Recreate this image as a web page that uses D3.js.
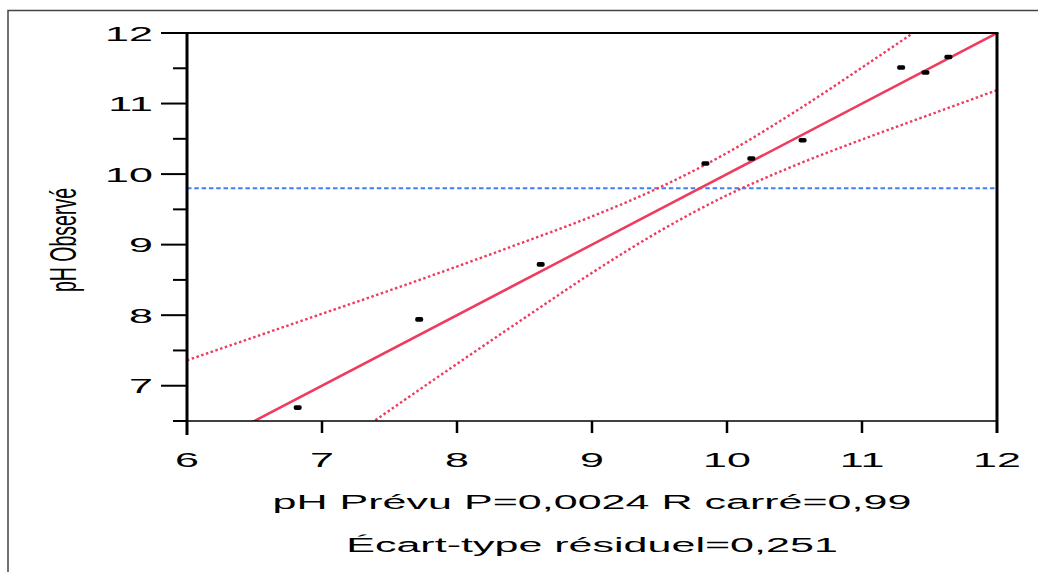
<!DOCTYPE html>
<html lang="fr">
<head>
<meta charset="utf-8">
<title>pH Observé vs pH Prévu</title>
<script src="https://cdn.jsdelivr.net/npm/d3@7"></script>
<style>
  body { margin: 0; background: #fff; }
  text { font-family: "Liberation Sans", Arial, sans-serif; fill: #000; }
</style>
</head>
<body>
<script>
// values
var predicted = [6.82, 7.72, 8.62, 9.84, 10.18, 10.56, 11.29, 11.47, 11.64];
var observed  = [6.69, 7.94, 8.72, 10.15, 10.22, 10.48, 11.51, 11.44, 11.66];
var fitX = [6, 12];
var fitY = [6, 12];
var meanObserved = 9.8;
var bandX     = [6, 6.5, 7, 7.5, 8, 8.5, 9, 9.5, 10, 10.5, 11, 11.5, 12];
var upperBand = [7.36, 7.69, 8.02, 8.35, 8.69, 9.04, 9.40, 9.81, 10.30, 10.88, 11.51, 12.16, 12.82];
var lowerBand = [4.64, 5.31, 5.98, 6.65, 7.31, 7.96, 8.60, 9.19, 9.70, 10.12, 10.49, 10.84, 11.19];
var xTicks = [6, 7, 8, 9, 10, 11, 12];
var yTicks = [7, 8, 9, 10, 11, 12];
var yMinor = [6.5, 7.5, 8.5, 9.5, 10.5, 11.5];
var xTitle1 = "pH Prévu P=0,0024 R carré=0,99";
var xTitle2 = "Écart-type résiduel=0,251";
var yTitle = "pH Observé";

var W = 1038, H = 572;
var pLeft = 187, pRight = 997, pTop = 33, pBottom = 421;
var stretch = 2.05;   // text in the picture is drawn wide
var red = "#ee3b5e", blue = "#3f80f2";

var svg = d3.select("body").append("svg")
  .attr("width", W).attr("height", H);

// outer frame
svg.append("path")
  .attr("d", "M8," + H + "V10.5H" + W)
  .attr("fill", "none").attr("stroke", "#444").attr("stroke-width", 1.5);

var x = d3.scaleLinear().domain([6, 12]).range([pLeft, pRight]);
var y = d3.scaleLinear().domain([6.5, 12]).range([pBottom, pTop]);

svg.append("clipPath").attr("id", "plot")
  .append("rect").attr("x", pLeft).attr("y", pTop)
  .attr("width", pRight - pLeft).attr("height", pBottom - pTop);

var g = svg.append("g").attr("clip-path", "url(#plot)");

// mean line
g.append("line")
  .attr("x1", x(6)).attr("x2", x(12))
  .attr("y1", y(meanObserved)).attr("y2", y(meanObserved))
  .attr("stroke", blue).attr("stroke-width", 2)
  .attr("stroke-dasharray", "4.5,2.8");

// confidence curves
var curve = d3.line().curve(d3.curveMonotoneX)
  .x(function(d){ return x(d[0]); })
  .y(function(d){ return y(d[1]); });
[upperBand, lowerBand].forEach(function(b){
  g.append("path")
    .attr("d", curve(d3.zip(bandX, b)))
    .attr("fill", "none").attr("stroke", red)
    .attr("stroke-width", 2.4).attr("stroke-dasharray", "2.5,2.5");
});

// fit line
g.append("path")
  .attr("d", curve(d3.zip(fitX, fitY)))
  .attr("fill", "none").attr("stroke", red).attr("stroke-width", 2.5);

// points
g.selectAll("rect.pt")
  .data(d3.zip(predicted, observed))
  .enter().append("rect").attr("class", "pt")
  .attr("x", function(d){ return x(d[0]) - 4; })
  .attr("y", function(d){ return y(d[1]) - 2.3; })
  .attr("width", 8).attr("height", 4.6)
  .attr("rx", 1.8).attr("ry", 1.8)
  .attr("fill", "#000");

// frame of the plot
svg.append("line").attr("x1", pLeft).attr("x2", pRight)
  .attr("y1", pBottom).attr("y2", pBottom)
  .attr("stroke", "#000").attr("stroke-width", 1.5);
svg.append("line").attr("x1", pLeft).attr("x2", pRight + 1.5)
  .attr("y1", pTop).attr("y2", pTop)
  .attr("stroke", "#000").attr("stroke-width", 2);
svg.append("line").attr("x1", pLeft).attr("x2", pLeft)
  .attr("y1", pTop).attr("y2", pBottom + 14)
  .attr("stroke", "#000").attr("stroke-width", 3);
svg.append("line").attr("x1", pRight).attr("x2", pRight)
  .attr("y1", pTop).attr("y2", pBottom + 12)
  .attr("stroke", "#000").attr("stroke-width", 3);

// x ticks
svg.selectAll(".xt").data(xTicks.slice(1, -1)).enter().append("line")
  .attr("x1", function(d){ return x(d); }).attr("x2", function(d){ return x(d); })
  .attr("y1", pBottom).attr("y2", pBottom + 12)
  .attr("stroke", "#000").attr("stroke-width", 2.5);
svg.selectAll(".xl").data(xTicks).enter().append("text")
  .attr("text-anchor", "middle").attr("font-size", 21)
  .attr("transform", function(d){ return "translate(" + x(d) + ",467) scale(" + stretch + ",1)"; })
  .text(function(d){ return d; });

// y ticks
svg.selectAll(".yt").data(yTicks).enter().append("line")
  .attr("x1", pLeft - 26).attr("x2", pLeft)
  .attr("y1", function(d){ return y(d); }).attr("y2", function(d){ return y(d); })
  .attr("stroke", "#000").attr("stroke-width", 2);
svg.selectAll(".ym").data(yMinor).enter().append("line")
  .attr("x1", pLeft - 14).attr("x2", pLeft)
  .attr("y1", function(d){ return y(d); }).attr("y2", function(d){ return y(d); })
  .attr("stroke", "#000").attr("stroke-width", 2);
svg.selectAll(".yl").data(yTicks).enter().append("text")
  .attr("text-anchor", "end").attr("font-size", 21)
  .attr("transform", function(d){ return "translate(153," + (y(d) + 7.5) + ") scale(" + stretch + ",1)"; })
  .text(function(d){ return d; });

// titles
svg.append("text").attr("text-anchor", "middle").attr("font-size", 21)
  .attr("transform", "translate(" + (pLeft + pRight) / 2 + ",509) scale(" + stretch + ",1)")
  .text(xTitle1);
svg.append("text").attr("text-anchor", "middle").attr("font-size", 21)
  .attr("transform", "translate(" + (pLeft + pRight) / 2 + ",552) scale(" + stretch + ",1)")
  .text(xTitle2);
svg.append("text").attr("text-anchor", "middle").attr("font-size", 19.5)
  .attr("transform", "translate(76,240) scale(1.9,1) rotate(-90)")
  .text(yTitle);
</script>
</body>
</html>
